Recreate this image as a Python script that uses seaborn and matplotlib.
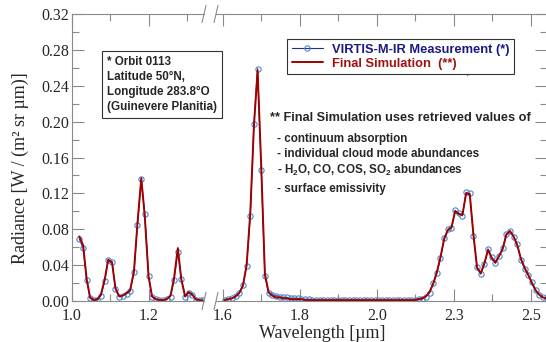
import matplotlib
matplotlib.use("Agg")
import matplotlib.pyplot as plt
import seaborn as sns

# ---- data ----
# short-wavelength window (1.0 - 1.35 um)
wl_left = [1.019, 1.029, 1.038, 1.047, 1.057, 1.066, 1.075, 1.085, 1.094, 1.104,
           1.113, 1.123, 1.132, 1.142, 1.151, 1.161, 1.170, 1.180, 1.189, 1.199,
           1.208, 1.218, 1.227, 1.237, 1.246, 1.256, 1.265, 1.275, 1.284, 1.294,
           1.303, 1.313, 1.322, 1.332, 1.341]
meas_left = [0.069, 0.059, 0.023, 0.003, 0.001, 0.001, 0.006, 0.022, 0.046, 0.044,
             0.013, 0.005, 0.006, 0.008, 0.011, 0.032, 0.085, 0.136, 0.097, 0.028,
             0.005, 0.002, 0.001, 0.001, 0.002, 0.005, 0.023, 0.055, 0.025, 0.005,
             0.009, 0.007, 0.001, 0.001, 0.001]
sim_left = [0.072, 0.062, 0.025, 0.004, 0.001, 0.002, 0.007, 0.024, 0.046, 0.043,
            0.014, 0.005, 0.006, 0.009, 0.012, 0.033, 0.086, 0.137, 0.095, 0.027,
            0.005, 0.002, 0.001, 0.001, 0.002, 0.006, 0.025, 0.059, 0.024, 0.005,
            0.010, 0.007, 0.002, 0.001, 0.000]

# long-wavelength part, in plotted axis units (tick labels as printed on the figure)
wl_right = [1.6045, 1.614, 1.6235, 1.633, 1.6425, 1.652, 1.6615, 1.671, 1.6805, 1.690,
            1.6995, 1.709, 1.7185, 1.728, 1.7375, 1.747, 1.7565, 1.766, 1.7755, 1.785,
            1.7945, 1.804, 1.8135, 1.823, 1.8325, 1.842, 1.8515, 1.861, 1.8705, 1.880,
            1.8895, 1.899, 1.9085, 1.918, 1.9275, 1.937, 1.9465, 1.956, 1.9655, 1.975,
            1.9845, 1.994, 2.0035, 2.013, 2.0225, 2.032, 2.0415, 2.051, 2.0605, 2.070,
            2.0795, 2.089, 2.0985, 2.108, 2.1175, 2.127, 2.1365, 2.146, 2.1555, 2.165,
            2.1745, 2.184, 2.1935, 2.203, 2.2125, 2.222, 2.2315, 2.241, 2.2505, 2.260,
            2.2695, 2.279, 2.2885, 2.298, 2.3075, 2.317, 2.3265, 2.336, 2.3455, 2.355,
            2.3645, 2.374, 2.3835, 2.393, 2.4025, 2.412, 2.4215, 2.431, 2.4405]
meas_right = [0.001, 0.002, 0.003, 0.006, 0.009, 0.018, 0.039, 0.095, 0.197, 0.259,
              0.146, 0.028, 0.009, 0.007, 0.006, 0.005, 0.004, 0.004, 0.003, 0.003,
              0.003, 0.002, 0.002, 0.002, 0.001, 0.001, 0.001, 0.001, 0.001, 0.001,
              0.001, 0.001, 0.001, 0.001, 0.001, 0.001, 0.001, 0.001, 0.001, 0.001,
              0.001, 0.001, 0.001, 0.001, 0.001, 0.001, 0.001, 0.001, 0.001, 0.001,
              0.001, 0.001, 0.001, 0.002, 0.002, 0.005, 0.009, 0.020, 0.031, 0.048,
              0.070, 0.080, 0.081, 0.101, 0.098, 0.095, 0.121, 0.120, 0.073, 0.038,
              0.030, 0.041, 0.058, 0.049, 0.042, 0.050, 0.059, 0.075, 0.078, 0.071,
              0.063, 0.046, 0.036, 0.029, 0.021, 0.012, 0.007, 0.004, 0.003]
sim_right = [0.001, 0.002, 0.003, 0.005, 0.009, 0.017, 0.040, 0.098, 0.195, 0.257,
             0.150, 0.030, 0.010, 0.006, 0.004, 0.004, 0.003, 0.003, 0.002, 0.002,
             0.002, 0.002, 0.001, 0.001, 0.001, 0.001, 0.001, 0.001, 0.001, 0.001,
             0.001, 0.001, 0.001, 0.001, 0.001, 0.001, 0.001, 0.001, 0.001, 0.001,
             0.001, 0.001, 0.001, 0.001, 0.001, 0.001, 0.001, 0.001, 0.001, 0.001,
             0.001, 0.001, 0.001, 0.002, 0.003, 0.005, 0.010, 0.019, 0.032, 0.049,
             0.069, 0.079, 0.082, 0.100, 0.097, 0.096, 0.120, 0.119, 0.074, 0.037,
             0.031, 0.042, 0.057, 0.048, 0.043, 0.050, 0.058, 0.074, 0.078, 0.072,
             0.062, 0.047, 0.037, 0.029, 0.020, 0.012, 0.007, 0.004, 0.003]

xticks_left = [1.0, 1.2]
xminor_left = [1.1, 1.3]
xticks_right = [1.6, 1.8, 2.0, 2.2, 2.4]
xlabels_right = ["1.6", "1.8", "2.0", "2.3", "2.5"]
xminor_right = [1.7, 1.9, 2.1, 2.3]

W, H = 546, 342

def fpos(x, y):
    # pixel position -> figure fraction
    return x / W, 1 - y / H

sns.set_style("ticks")
plt.rcParams['font.family'] = ['Liberation Serif', 'DejaVu Serif']
plt.rcParams['mathtext.fontset'] = 'custom'
plt.rcParams['mathtext.bf'] = 'Liberation Sans:bold'
plt.rcParams['mathtext.rm'] = 'Liberation Sans:bold'
plt.rcParams['mathtext.default'] = 'bf'

fig = plt.figure(figsize=(5.46, 3.42), dpi=100)
ax1 = fig.add_axes([72 / W, 41 / H, 132 / W, 287 / H])
ax2 = fig.add_axes([216 / W, 41 / H, 331 / W, 287 / H])

navy = '#1c2f8f'
circ = '#4f86c6'
red = '#a00000'
grey = '#8a8a8a'

for ax, wl, meas, sim in [(ax1, wl_left, meas_left, sim_left),
                          (ax2, wl_right, meas_right, sim_right)]:
    sns.lineplot(x=wl, y=meas, ax=ax, color=navy, lw=0.8, marker='o', ms=3.8,
                 mfc='none', mec=circ, mew=0.8, label='VIRTIS-M-IR Measurement (*)',
                 legend=False)
    sns.lineplot(x=wl, y=sim, ax=ax, color=red, lw=1.4,
                 label='Final Simulation  (**)', legend=False)
    ax.set_ylim(0, 0.32)
    for s in ax.spines.values():
        s.set_color(grey)
        s.set_linewidth(0.8)
    ax.tick_params(which='both', direction='in', color=grey, width=0.8,
                   top=True, labelsize=11.5)
    ax.tick_params(which='major', length=8.5)
    ax.tick_params(which='minor', length=5)
    ax.tick_params(axis='x', pad=5)
    ax.set_xlabel('')
    ax.set_ylabel('')

ax1.set_xlim(1.0, 1.343)
ax1.set_xticks(xticks_left)
ax1.set_xticklabels(['1.0', '1.2'])
ax1.set_xticks(xminor_left, minor=True)
ax1.set_yticks([i * 0.04 for i in range(9)])
ax1.set_yticklabels(['%.2f' % (i * 0.04) for i in range(9)])
ax1.set_yticks([0.02 + i * 0.04 for i in range(8)], minor=True)
ax1.spines['right'].set_visible(False)
ax1.tick_params(which='both', axis='y', right=False, pad=2)

ax2.set_xlim(1.582, 2.4416)
ax2.set_xticks(xticks_right)
ax2.set_xticklabels(xlabels_right)
ax2.set_xticks(xminor_right, minor=True)
ax2.set_yticks([i * 0.04 for i in range(9)])
ax2.set_yticks([0.02 + i * 0.04 for i in range(8)], minor=True)
ax2.spines['left'].set_visible(False)
ax2.tick_params(which='both', axis='y', left=False, right=True, labelleft=False)

# break marks
d = 0.03
kw = dict(color=grey, lw=0.8, clip_on=False)
for y0 in (0, 1):
    ax1.plot((1 - d * 0.5, 1 + d * 0.5), (y0 - d, y0 + d), transform=ax1.transAxes, **kw)
    ax2.plot((-d * 0.2, d * 0.2), (y0 - d, y0 + d), transform=ax2.transAxes, **kw)

# axis labels
fig.text(*fpos(20, 168), 'Radiance [W / (m\u00b2 sr \u00b5m)]', rotation=90,
         ha='center', va='center', fontsize=13)
fig.text(*fpos(322, 333), 'Wavelength [\u00b5m]', ha='center', va='center', fontsize=13)

# legend
h = ax2.get_lines()
leg = fig.legend(handles=[h[0], h[1]], loc='upper left',
                 bbox_to_anchor=fpos(287, 39), bbox_transform=fig.transFigure,
                 prop=dict(family='Liberation Sans', weight='bold', size=9.3),
                 frameon=True, fancybox=False, framealpha=1, edgecolor='#333333',
                 borderaxespad=0, borderpad=0.35, handlelength=2.4,
                 handletextpad=0.7, labelspacing=0.15, numpoints=1)
leg.get_frame().set_linewidth(0.8)
leg.get_texts()[0].set_color('#1a1a80')
leg.get_texts()[1].set_color('#a01010')

fig.text(*fpos(515, 73), 'Exposure: 3.3 s', ha='right', va='center',
         fontsize=6, family='Liberation Sans')

# observation info box
fig.text(*fpos(107, 84.5), '* Orbit 0113\nLatitude 50\u00b0N,\nLongitude 283.8\u00b0O\n(Guinevere Planitia)',
         ha='left', va='center', fontsize=8.4, weight='bold', family='Liberation Sans',
         linespacing=1.3,
         bbox=dict(boxstyle='square,pad=0.45', fc='white', ec='#333333', lw=0.8))

# retrieval note
fig.text(*fpos(270, 118), '** Final Simulation uses retrieved values of', ha='left',
         va='center', fontsize=9.2, weight='bold', family='Liberation Sans')
notes = ['- continuum absorption',
         '- individual cloud mode abundances',
         '- H$_2$O, CO, COS, SO$_2$ abundances',
         '- surface emissivity']
for txt, yy in zip(notes, [139, 154, 170, 189]):
    fig.text(*fpos(277, yy), txt, ha='left', va='center', fontsize=8.4,
             weight='bold', family='Liberation Sans')

fig.savefig('out.png', dpi=100)
